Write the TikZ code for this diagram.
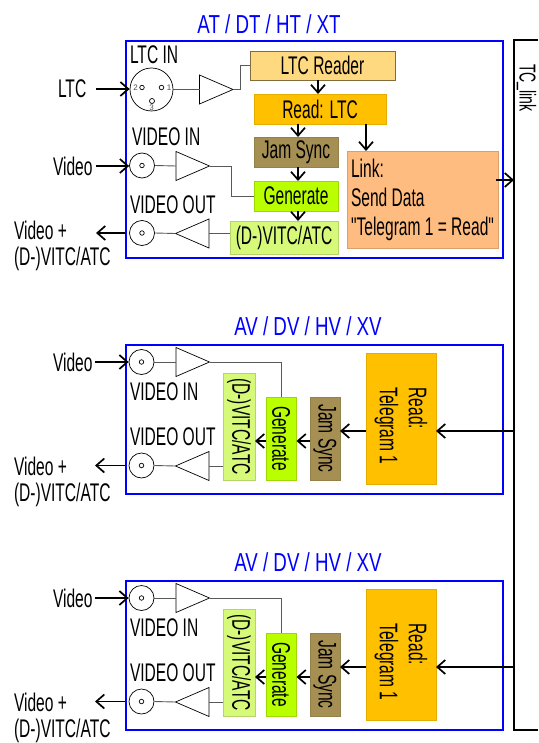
\documentclass[tikz,border=0pt]{standalone}
\usepackage{fontspec}
\usetikzlibrary{arrows.meta,shapes.geometric,calc}
\newfontfamily\nar[FakeStretch=0.61]{Liberation Sans}
\newfontfamily\nart[FakeStretch=0.72]{Liberation Sans}
\definecolor{bluebox}{HTML}{0000FF}
\definecolor{cReader}{HTML}{FFD97F}
\definecolor{cRead}{HTML}{FFC000}
\definecolor{cJam}{HTML}{A58F52}
\definecolor{cGen}{HTML}{B9FF00}
\definecolor{cVitc}{HTML}{D6F97A}
\definecolor{cLink}{HTML}{FFBC80}
\tikzset{
  x=1pt,y=-1pt,
  txt/.style={font=\nar\fontsize{25.5}{29}\selectfont,inner sep=0,outer sep=0,text=black},
  title/.style={font=\nart\fontsize{26}{29}\selectfont,inner sep=0,text=bluebox},
  frameb/.style={draw=bluebox,line width=1.8pt,fill=none},
  arr/.style={-{Straight Barb[length=8pt,width=14pt,line width=1.7pt]},line width=1.7pt,black},
  wire/.style={draw=black!65,line width=0.9pt},
  bnc/.style={circle,draw=black,line width=0.7pt,minimum size=25pt,inner sep=0,fill=white},
  pin/.style={circle,draw=black,line width=0.7pt,minimum size=4.5pt,inner sep=0},
  amp/.style={isosceles triangle,isosceles triangle stretches,draw=black,line width=0.7pt,
     minimum width=29pt,minimum height=33.5pt,inner sep=0,outer sep=0,anchor=lower side,fill=white},
  pnum/.style={font=\fontspec{Liberation Sans}\fontsize{8}{8}\selectfont,text=black!70,inner sep=0},
}
\begin{document}
\begin{tikzpicture}
\useasboundingbox (0,0) rectangle (538,743);
% TC link bus
\draw[line width=2pt,black] (538,40) -- (514,40) -- (514,730) -- (538,730);
\node[font=\nar\fontsize{23}{29}\selectfont,inner sep=0,rotate=-90,anchor=base] (tclabel) at (519.5,88) {TC\raisebox{1.8pt}{\_}link};
\coordinate (tcA) at (514,180);
% --- top unit
\node[title] (titleA) at (269,24) {AT / DT / HT / XT};
\node[frameb,minimum width=377pt,minimum height=217pt,inner sep=0,anchor=north west] (unitA) at (125,40) {};
\node[txt,anchor=west] (ltc) at (58,89) {LTC};
\node[txt,anchor=west] (vidA) at (53,166) {Video};
\node[txt,anchor=west] (vidoA) at (14,230) {Video +};
\node[txt,anchor=west] (vitcA) at (14,259) {(D-)VITC/ATC};
\node[txt,anchor=west] (ltcin) at (130,55) {LTC IN};
\node[txt,anchor=west] (vinA) at (132,137) {VIDEO IN};
\node[txt,anchor=west] (voutA) at (130,205) {VIDEO OUT};
% connectors
\node[bnc,minimum size=43pt] (xlr) at (151.5,89.5) {};
\node[pin] (p2) at (142,87.5) {};
\node[pin] (p1) at (161.5,87.5) {};
\node[pin,minimum size=5pt] (p3) at (152,101) {};
\node[pnum] (n2) at (135.5,87.5) {2};
\node[pnum] (n1) at (169,87.5) {1};
\node[pnum] (n3) at (151.5,107.5) {3};
\node[bnc] (bi) at (142,165.5) {};
\node[pin] (bid) at (142,165.5) {};
\node[bnc] (bo) at (142,233) {};
\node[pin] (bod) at (142,233) {};
\node[amp] (a1) at (199.5,89.5) {};
\node[amp] (a2) at (176,166) {};
\node[amp,rotate=180] (a3) at (209,233.5) {};
% boxes
\node[txt,fill=cReader,draw=cReader!50!black,line width=0.9pt,minimum width=145pt,minimum height=29pt] (reader) at (322.5,65.5) {LTC Reader};
\node[txt,fill=cRead,draw=cRead!90!black,line width=0.4pt,minimum width=132pt,minimum height=30pt] (readA) at (320,109) {Read: LTC};
\node[txt,fill=cJam,draw=cJam!90!black,line width=0.4pt,minimum width=84pt,minimum height=30pt] (jamA) at (296,152) {Jam Sync};
\node[txt,fill=cGen,draw=cGen!85!black,line width=0.4pt,minimum width=84pt,minimum height=30pt] (genA) at (296,196) {Generate};
\node[txt,fill=cVitc,draw=cVitc!85!black,line width=0.4pt,minimum width=108pt,minimum height=33pt] (vitcbA) at (284,237.5) {(D-)VITC/ATC};
\node[txt,fill=cLink,draw=cLink!85!black,line width=0.4pt,minimum width=151pt,minimum height=97pt,align=left] (link) at (422.5,199.5) {Link:\\Send Data\\"Telegram 1 = Read"};
% arrow end points
\coordinate (x1) at (96,89);
\coordinate (x2) at (96,166);
\coordinate (x3) at (96,233);
\coordinate (xa) at (318,0);
\coordinate (xb) at (298,0);
\coordinate (xc) at (366,0);
\coordinate (x4) at (496,180);
% wires
\draw[wire] (xlr.east) -- (a1.lower side);
\draw[wire] (a1.apex) -- ++(7,0) |- (reader.west);
\draw[wire] (bi.east) -- (a2.lower side);
\draw[wire] (a2.apex) -- ++(22,0) |- (genA.west);
\draw[wire] (bo.east) -- (a3.apex);
\draw[wire] (a3.lower side) -- (vitcbA.west |- a3.lower side);
% arrows
\draw[arr] (x1) -- (xlr.west |- x1);
\draw[arr] (x2) -- (bi.west |- x2);
\draw[arr] (unitA.west |- x3) -- (x3);
\draw[arr] (reader.south -| xa) -- (readA.north -| xa);
\draw[arr] (readA.south -| xb) -- (jamA.north -| xb);
\draw[arr] (jamA.south -| xb) -- (genA.north -| xb);
\draw[arr] (genA.south -| xb) -- (vitcbA.north -| xb);
\draw[arr] (readA.south -| xc) -- (link.north -| xc);
\draw[arr] (x4) -- (tcA);
% --- lower units
\foreach \p/\o in {b/0,c/236}{
\begin{scope}[yshift=-\o pt]
\node[title] (\p title) at (308,326) {AV / DV / HV / XV};
\node[frameb,minimum width=377pt,minimum height=149pt,inner sep=0,anchor=north west] (\p unit) at (125,344) {};
\node[txt,anchor=west] (\p vid) at (53,362) {Video};
\node[txt,anchor=west] (\p vido) at (14,466) {Video +};
\node[txt,anchor=west] (\p vitc) at (14,495) {(D-)VITC/ATC};
\node[txt,anchor=west] (\p vin) at (130,392) {VIDEO IN};
\node[txt,anchor=west] (\p vout) at (130,437) {VIDEO OUT};
\node[bnc] (\p bi) at (141.5,362) {};
\node[pin] (\p bid) at (141.5,362) {};
\node[bnc] (\p bo) at (141.5,465.5) {};
\node[pin] (\p bod) at (141.5,465.5) {};
\node[amp] (\p a2) at (176,362) {};
\node[amp,rotate=180] (\p a3) at (209,466) {};
\node[txt,rotate=-90,fill=cVitc,draw=cVitc!85!black,line width=0.4pt,minimum width=107pt,minimum height=32pt] (\p vb) at (239,426.5) {(D-)VITC/ATC};
\node[txt,rotate=-90,fill=cGen,draw=cGen!85!black,line width=0.4pt,minimum width=83pt,minimum height=30.5pt] (\p gen) at (281.25,438.5) {Generate};
\node[txt,rotate=-90,fill=cJam,draw=cJam!90!black,line width=0.4pt,minimum width=83pt,minimum height=30pt] (\p jam) at (325,438.5) {Jam Sync};
\node[txt,rotate=-90,fill=cRead,draw=cRead!90!black,line width=0.4pt,minimum width=131pt,minimum height=70pt,align=left] (\p read) at (401,418.5) {\hspace*{15pt}Read:\\\hspace*{15pt}Telegram 1};
\coordinate (\p tc) at (514,431);
\coordinate (\p m) at (300,441);
\coordinate (\p x1) at (95,362);
\coordinate (\p x2) at (95,465.5);
\coordinate (\p x3) at (223,466);
\draw[wire] (\p bi.east) -- (\p a2.lower side);
\draw[wire] (\p a2.apex) -| (\p gen.west);
\draw[wire] (\p bo.east) -- (\p a3.apex);
\draw[wire] (\p a3.lower side) -- (\p x3);
\draw[arr] (\p x1) -- (\p bi.west |- \p x1);
\draw[arr] (\p unit.west |- \p x2) -- (\p x2);
\draw[arr] (\p tc) -- (\p read.north |- \p tc);
\draw[arr] (\p read.south |- \p tc) -- (\p jam.north |- \p tc);
\draw[arr] (\p jam.south |- \p m) -- (\p gen.north |- \p m);
\draw[arr] (\p gen.south |- \p m) -- (\p vb.north |- \p m);
\end{scope}
}
\end{tikzpicture}
\end{document}
